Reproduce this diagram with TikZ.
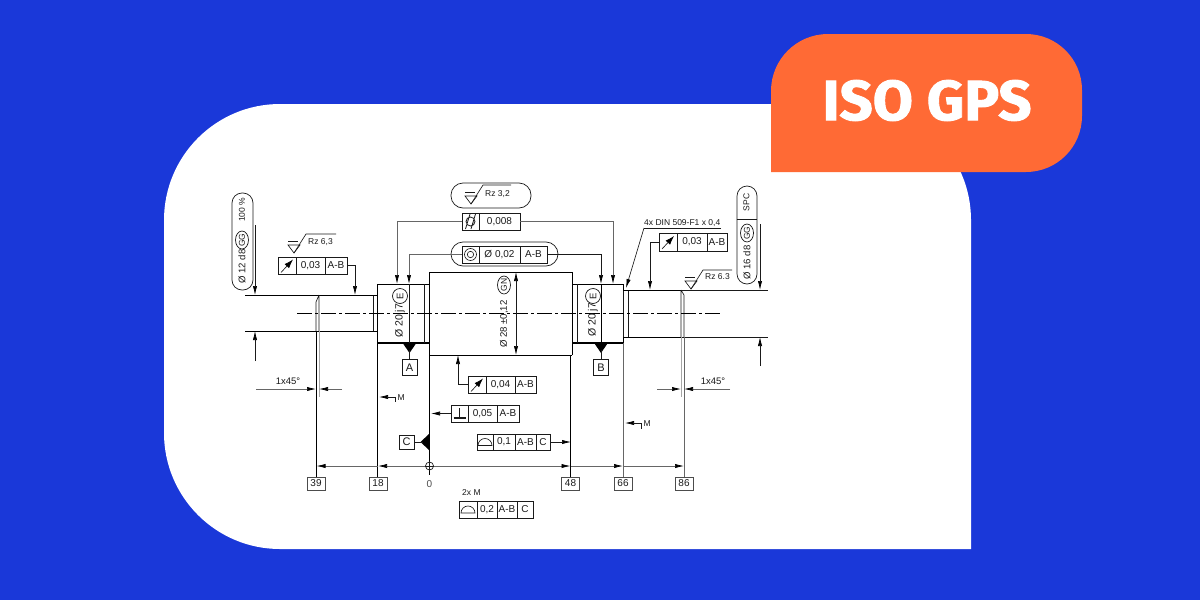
\documentclass[tikz,border=0pt]{standalone}
\usepackage{fontspec}
\setmainfont{Liberation Sans}
\newfontfamily\titlefont[FakeBold=1.6,FakeStretch=1.03]{Fira Sans}
\usetikzlibrary{arrows.meta,shapes.geometric}
\definecolor{bgblue}{HTML}{1A38D9}
\definecolor{tagorange}{HTML}{FF6A35}
\definecolor{ink}{HTML}{1A1A1A}
\newcommand{\gfr}[5]{%
  \pgfmathsetmacro{\gw}{#4-#2}\pgfmathsetmacro{\gh}{#5-#3}%
  \pgfmathsetmacro{\gx}{(#2+#4)/2}\pgfmathsetmacro{\gy}{(#3+#5)/2}%
  \node[framebox,minimum width=\gw pt,minimum height=\gh pt] (#1) at (\gx,\gy) {};}
\newcommand{\gdiv}[3]{\draw[thinl] (#1,#2) -- (#1,#3);}
\newcommand{\gtxt}[3]{\node[lbl] at (#1,#2) {#3};}
\newcommand{\grunout}[2]{\draw[thinl,-{Latex[length=9pt,width=6pt,black]}] (#1-6,#2+7) -- (#1+6,#2-6);}
\newcommand{\gprof}[2]{\draw[thinl] (#1-7,#2+4) -- (#1+7,#2+4) arc[start angle=0,end angle=180,x radius=7pt,y radius=7pt] -- cycle;}
\newcommand{\gsurf}[3]{% x of bar left, y of bar, length of top line
  \draw[thinl] (#1,#2) -- ++(10,0);
  \draw[thinl] (#1,#2+4) -- ++(12,0) -- ++(-6,8) -- cycle;
  \draw[thinl] (#1+6,#2+12) -- ++(12,-19) -- ++(#3,0);}
\tikzset{
  x=1pt,y=-1pt,
  thinl/.style={draw=ink,line width=0.65pt},
  greyl/.style={draw=black!60,line width=0.7pt},
  outl/.style={draw=black,line width=0.95pt},
  heavy/.style={draw=black,line width=1.6pt},
  tip/.style={-{Latex[length=9pt,width=4.2pt,black]}},
  tipb/.style={{Latex[length=9pt,width=4.2pt,black]}-{Latex[length=9pt,width=4.2pt,black]}},
  tipr/.style={{Latex[length=9pt,width=4.2pt,black]}-},
  framebox/.style={draw=ink,line width=0.8pt,fill=white,inner sep=0pt},
  lbl/.style={font=\fontsize{10}{12}\selectfont,text=ink,inner sep=0pt},
  small/.style={font=\fontsize{8.5}{10}\selectfont,text=ink,inner sep=0pt},
  vlbl/.style={font=\fontsize{10}{12}\selectfont,text=ink,inner sep=0pt,rotate=90},
  numbox/.style={draw=black!70,line width=0.8pt,fill=white,inner sep=0pt,minimum width=18pt,minimum height=13pt,font=\fontsize{10}{12}\selectfont,text=ink},
  letterbox/.style={draw=ink,line width=0.8pt,fill=white,inner sep=0pt,minimum width=15pt,minimum height=16pt,font=\fontsize{11}{12}\selectfont,text=ink},
  ovalbox/.style={draw=ink,line width=0.7pt,inner sep=0pt},
  encl/.style={draw=ink,line width=0.7pt,inner sep=0pt,font=\fontsize{8}{9}\selectfont,text=ink},
}
\begin{document}
\begin{tikzpicture}
\useasboundingbox (0,0) rectangle (1200,600);
\fill[bgblue] (0,0) rectangle (1200,600);
% white panel
\fill[white] (280,104) -- (855,104) arc[start angle=90,end angle=0,radius=116pt] -- (971,549) -- (280,549)
  arc[start angle=-90,end angle=-180,radius=116pt] -- (164,220) arc[start angle=180,end angle=90,radius=116pt] -- cycle;
% orange tag
\fill[tagorange] (771,172) -- (771,91) arc[start angle=180,end angle=90,radius=57pt] -- (1026,34)
  arc[start angle=90,end angle=0,radius=56pt] -- (1082,116) arc[start angle=0,end angle=-90,radius=56pt] -- cycle;
\node[text=white,inner sep=0pt,font=\titlefont\bfseries\fontsize{56.5}{60}\selectfont] (title) at (927,100.5) {ISO GPS};

% --- shaft ---
\draw[outl] (245,295) -- (373,295);
\draw[outl] (245,331) -- (373,331);
\draw[thinl] (316,302) -- (316,331) (319,295) -- (319,331) (319,295) -- (316,302);
\draw[thinl] (373,295) -- (373,331);
\draw[outl] (373,295) -- (377,295) (373,331) -- (377,331);
\draw[outl] (377,343) -- (377,284) -- (429,284);
\draw[heavy] (377,343) -- (429,343);
\draw[thinl] (424,284) -- (424,343);
\draw[outl] (429,355) -- (429,272) -- (572,272) -- (572,355);
\draw[outl] (429,355) -- (572,355);
\draw[outl] (572,284) -- (623,284) -- (623,343);
\draw[heavy] (572,343) -- (623,343);
\draw[thinl] (577,284) -- (577,343);
\draw[thinl] (623.5,290) -- (623.5,337) (628,290) -- (628,337);
\draw[outl] (623,290) -- (681,290);
\draw[outl] (623,337) -- (681,337);
\draw[thinl] (681,290) -- (681,337) (684,295) -- (684,337) (681,290) -- (684,295);
\draw[thinl] (681,290) -- (768,290);
\draw[thinl] (681,337) -- (768,337);
% centre line
\draw[draw=black,line width=0.8pt,dash pattern=on 15pt off 3pt on 3pt off 3pt] (297,313) -- (721,313);

% --- named free ends ---
\coordinate (dl1) at (255,225); \coordinate (dl1e) at (255,295);
\coordinate (dl2) at (255,361); \coordinate (dl2e) at (255,331);
\coordinate (dr1) at (760,224); \coordinate (dr1e) at (760,290);
\coordinate (dr2) at (760,366); \coordinate (dr2e) at (760,337);
\draw[thinl,tip] (dl1) -- (dl1e);
\draw[thinl,tip] (dl2) -- (dl2e);
\draw[thinl,tip] (dr1) -- (dr1e);
\draw[thinl,tip] (dr2) -- (dr2e);

% --- ovals left / right ---
\node[ovalbox,rounded corners=10pt,minimum width=21pt,minimum height=97pt] (ovl) at (242.5,241.5) {};
\node[vlbl,anchor=west,font=\fontsize{9.6}{12}\selectfont] (t12) at (242,284) {Ø 12 d8};
\node[encl,ellipse,minimum width=13pt,minimum height=18pt] (gg1) at (242,240) {};
\node[small,rotate=90] (gg1t) at (242,240) {GG};
\node[vlbl,anchor=west,font=\fontsize{8.5}{10}\selectfont] (t100) at (242,222) {100 \%};
\node[ovalbox,rounded corners=10pt,minimum width=20pt,minimum height=98pt] (ovr) at (747,235) {};
\draw[thinl] (ovr.west |- 0,219) -- (ovr.east |- 0,219);
\node[small,rotate=90] (tspc) at (746.5,202.5) {SPC};
\node[vlbl,anchor=west,font=\fontsize{9.6}{12}\selectfont] (t16) at (747,280) {Ø 16 d8};
\node[encl,ellipse,minimum width=13pt,minimum height=18pt] (gg2) at (747,233) {};
\node[small,rotate=90] (gg2t) at (747,233) {GG};

% --- surface symbols ---
\gsurf{288}{241}{30}
\node[small,anchor=west] (rz1) at (308,242) {Rz 6,3};
\gsurf{685}{277}{29}
\node[small,anchor=west] (rz2) at (705,277) {Rz 6.3};
\node[ovalbox,rounded corners=12pt,minimum width=80pt,minimum height=25pt] (ovt) at (491,195.5) {};
\gsurf{465}{192}{28}
\node[small,anchor=west] (rz3) at (485,194) {Rz 3,2};

% --- frames ---
\gfr{f1}{278}{257}{347}{274}
\gdiv{296}{257}{274}\gdiv{325}{257}{274}
\grunout{287}{265.5}\gtxt{310.5}{265.5}{0,03}\gtxt{336}{265.5}{A-B}

\gfr{f2}{462}{213}{520}{230}
\gdiv{479}{213}{230}
\draw[thinl,line width=0.8pt] (470.5,221.5) circle[radius=4.5pt] (465.5,229) -- (470,214) (471,229) -- (475.5,214);
\gtxt{499.5}{221.5}{0,008}

\node[ovalbox,rounded corners=12pt,minimum width=107pt,minimum height=24pt] (ovc) at (504.5,254) {};
\gfr{f3}{462}{246}{547}{263}
\gdiv{479}{246}{263}\gdiv{520}{246}{263}
\draw[thinl] (470.5,254.5) circle[radius=6pt] (470.5,254.5) circle[radius=3.2pt];
\gtxt{499.5}{254.5}{Ø 0,02}\gtxt{533.5}{254.5}{A-B}

\gfr{f4}{659}{233}{727}{251}
\gdiv{677}{233}{251}\gdiv{707}{233}{251}
\grunout{668}{242}\gtxt{692}{242}{0,03}\gtxt{717}{242}{A-B}

\gfr{f5}{468}{376}{536}{393}
\gdiv{486}{376}{393}\gdiv{515}{376}{393}
\grunout{477}{384.5}\gtxt{500.5}{384.5}{0,04}\gtxt{525.5}{384.5}{A-B}

\gfr{f6}{451}{405}{519}{422}
\gdiv{468}{405}{422}\gdiv{497}{405}{422}
\draw[line width=1.2pt,draw=ink] (453.5,418) -- (465.5,418) (459.5,418) -- (459.5,408);
\gtxt{482.5}{413.5}{0,05}\gtxt{508}{413.5}{A-B}

\gfr{f7}{477}{434}{550}{450}
\gdiv{493}{434}{450}\gdiv{515}{434}{450}\gdiv{536}{434}{450}
\gprof{485}{441.5}\gtxt{504}{442}{0,1}\gtxt{525.5}{442}{A-B}\gtxt{543}{442}{C}

\gfr{f8}{459}{501}{533}{518}
\gdiv{477}{501}{518}\gdiv{497}{501}{518}\gdiv{517}{501}{518}
\gprof{468}{509}\gtxt{487}{509.5}{0,2}\gtxt{507}{509.5}{A-B}\gtxt{525}{509.5}{C}
\node[small,anchor=west] (t2xm) at (462,493) {2x M};

% --- leaders from frames ---
\coordinate (e1) at (355,295);
\draw[thinl,tip] (f1.east) -| (e1);
\coordinate (e2a) at (397,284); \coordinate (e2b) at (613,284);
\draw[greyl,tip] (f2.west) -| (e2a);
\draw[greyl,tip] (f2.east) -| (e2b);
\coordinate (e3a) at (409,284); \coordinate (e3b) at (601,284);
\draw[greyl,tip] (f3.west) -| (e3a);
\draw[thinl,tip] (f3.east) -| (e3b);
\coordinate (e4) at (650,290);
\draw[thinl,tip] (f4.west) -| (e4);
\coordinate (e5) at (458,355);
\draw[thinl,tip] (f5.west) -| (e5);
\coordinate (e6) at (431,413.5);
\draw[thinl,tip] (f6.west) -- (e6);
\coordinate (e7) at (571,442);
\draw[thinl,tip] (f7.east) -- (e7);

% --- 4x DIN note ---
\node[font=\fontsize{8.5}{10}\selectfont,text=ink,inner sep=0pt,anchor=south west] (din) at (644,226.5) {4x DIN 509-F1 x 0,4};
\coordinate (dinr) at (721,228); \coordinate (dinl) at (644,228); \coordinate (dint) at (626,288);
\draw[thinl] (dinr) -- (dinl);
\draw[thinl,tip] (dinl) -- (dint);

% --- dim in bearings / centre ---
\draw[thinl] (409,284) -- (409,343);
\draw[outl] (601,284) -- (601,343);
\coordinate (d28a) at (516,272); \coordinate (d28b) at (516,355);
\draw[thinl,tipb] (d28a) -- (d28b);
\node[vlbl,anchor=west,font=\fontsize{10.5}{12}\selectfont] (t20a) at (400,338) {Ø 20 j7};
\node[encl,circle,minimum size=15pt] (ea) at (400,296) {};
\node[small,rotate=90,font=\fontsize{9.5}{10}\selectfont] (eat) at (400,296) {E};
\node[vlbl,anchor=west,font=\fontsize{10.5}{12}\selectfont] (t20b) at (593,337) {Ø 20 j7};
\node[encl,circle,minimum size=15pt] (eb) at (593,296) {};
\node[small,rotate=90,font=\fontsize{9.5}{10}\selectfont] (ebt) at (593,296) {E};
\node[vlbl,anchor=west,font=\fontsize{9.6}{12}\selectfont] (t28) at (504,348) {Ø 28 ±0,12};
\node[encl,ellipse,minimum width=13pt,minimum height=18pt] (gn) at (504,285) {};
\node[small,rotate=90] (gnt) at (504,285) {GN};

% --- datums ---
\node[letterbox] (dA) at (409.5,367.5) {A};
\node[letterbox] (dB) at (601,367.5) {B};
\node[letterbox,minimum height=14pt] (dC) at (406.5,442) {C};
\fill[black] (403,343.5) -- (416,343.5) -- (409.5,353) -- cycle;
\fill[black] (594.5,343.5) -- (607.5,343.5) -- (601,353) -- cycle;
\fill[black] (429,434) -- (429,450) -- (420.5,442) -- cycle;
\coordinate (tA) at (409.5,350); \coordinate (tB) at (601,350); \coordinate (tC) at (423,442);
\draw[thinl] (tA) -- (dA.north);
\draw[thinl] (tB) -- (dB.north);
\draw[thinl] (tC) -- (dC.east);

% --- bottom dimension boxes ---
\node[numbox] (b39) at (316,483.5) {39};
\node[numbox] (b18) at (378,483.5) {18};
\node[numbox] (b48) at (570.5,483.5) {48};
\node[numbox] (b66) at (623,483.5) {66};
\node[numbox] (b86) at (684,483.5) {86};
\node[lbl,text=black!70] (t0) at (429.5,484) {0};
% extension lines
\coordinate (x39) at (316,331); \coordinate (x18) at (377.5,343); \coordinate (x0) at (429.5,355);
\coordinate (x0e) at (429.5,475); \coordinate (x48) at (570.5,355); \coordinate (x66) at (623,343); \coordinate (x86) at (684,337);
\draw[draw=black,line width=0.9pt] (x39) -- (b39.north);
\draw[draw=black,line width=0.9pt] (x18) -- (b18.north -| x18);
\draw[draw=black,line width=0.9pt] (x0) -- (x0e);
\draw[draw=black,line width=0.9pt] (x48) -- (b48.north);
\draw[greyl] (x66) -- (b66.north);
\draw[greyl] (x86) -- (b86.north);
\draw[draw=black!35,line width=0.9pt] (319,331) -- (319,397);
\draw[draw=black!35,line width=0.9pt] (681,337) -- (681,397);
% baseline
\node[draw=ink,line width=0.7pt,circle,minimum size=8pt,inner sep=0pt] (org) at (429.5,466) {};
\draw[thinl] (425,466) -- (434,466) (429.5,461) -- (429.5,471);
\draw[greyl,tip] (org.west) -- (378,466);
\draw[greyl,tip] (378,466) -- (316.5,466);
\draw[greyl,tip] (org.east) -- (570.5,466);
\draw[greyl,tip] (570.5,466) -- (623,466);
\draw[greyl,tip] (623,466) -- (684,466);
% 1x45
\coordinate (c1a) at (256,389); \coordinate (c1b) at (316,389); \coordinate (c1c) at (342,389); \coordinate (c1d) at (319,389);
\draw[greyl,tip] (c1a) -- (c1b);
\draw[greyl,tip] (c1c) -- (c1d);
\node[lbl,font=\fontsize{9.5}{11}\selectfont] (t45a) at (288,381) {1x45°};
\coordinate (c2a) at (657,389); \coordinate (c2b) at (681,389); \coordinate (c2c) at (730,389); \coordinate (c2d) at (684,389);
\draw[greyl,tip] (c2a) -- (c2b);
\draw[greyl,tip] (c2c) -- (c2d);
\node[lbl,font=\fontsize{9.5}{11}\selectfont] (t45b) at (713,381) {1x45°};
% M
\coordinate (m1) at (379,397); \coordinate (m2) at (625,423);
\draw[thinl,tipr] (m1) -- (395,397) -- (395,402);
\draw[thinl,tipr] (m2) -- (641,423) -- (641,429);
\node[small,anchor=west] (tm1) at (397.5,398) {M};
\node[small,anchor=west] (tm2) at (643.5,424) {M};
\end{tikzpicture}
\end{document}
